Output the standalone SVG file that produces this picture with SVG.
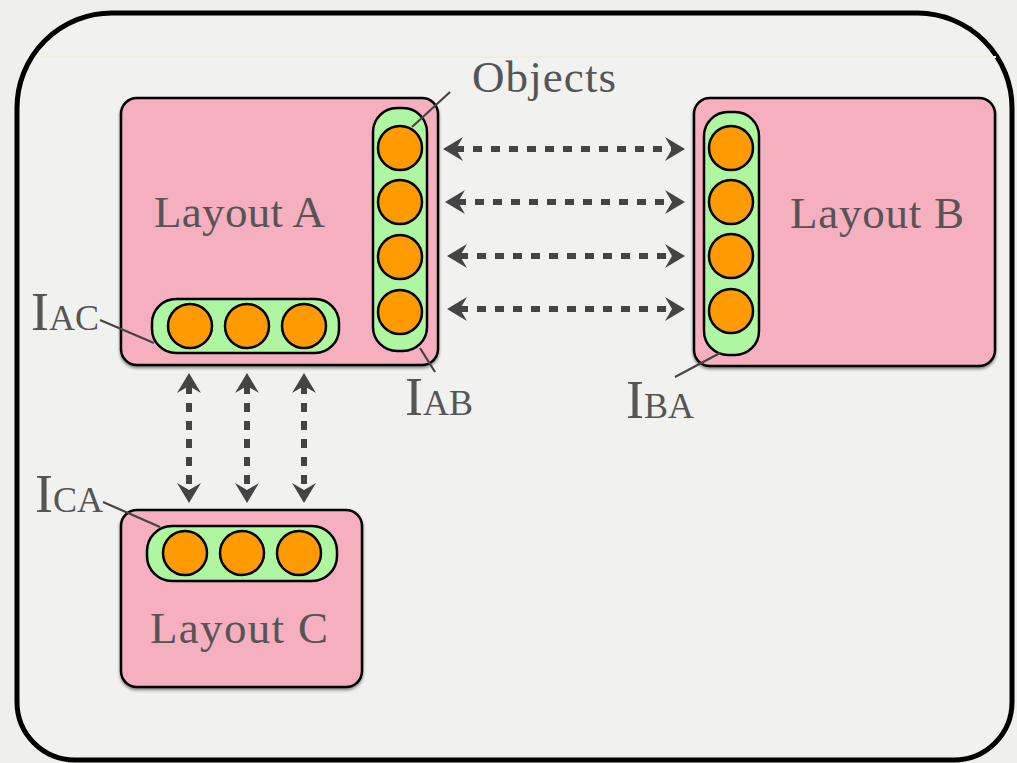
<svg xmlns="http://www.w3.org/2000/svg" width="1017" height="763" viewBox="0 0 1017 763">
  <style>
    .layout { fill: #f5afbf; stroke: #000; stroke-width: 2.5; }
    .iface { fill: #aef7a0; stroke: #000; stroke-width: 2.5; }
    .obj { fill: #ff9a00; stroke: #000; stroke-width: 2.5; }
    .lbl { font-family: "Liberation Serif", "DejaVu Serif", serif; fill: #555; }
    .big { font-size: 45px; }
    .lead { stroke: #444; stroke-width: 2.2; fill: none; }
    .link { stroke: #444; stroke-width: 6; stroke-dasharray: 9 9; fill: none; }
  </style>
  <defs>
    <marker id="head" viewBox="-21 -13 23 26" markerWidth="23" markerHeight="26" refX="-12" refY="0" orient="auto-start-reverse" markerUnits="userSpaceOnUse">
      <path d="M0,0 L-20,-12 L-13,0 L-20,12 Z" fill="#444"/>
    </marker>
    <filter id="shadow" x="-10%" y="-10%" width="120%" height="125%">
      <feDropShadow dx="0" dy="2" stdDeviation="1.5" flood-color="#000" flood-opacity="0.45"/>
    </filter>
  </defs>

  <!-- page -->
  <rect x="0" y="0" width="1017" height="763" fill="#efefed"/>
  <path d="M17,108 A95,95 0 0 1 112,13 L918,13 A95,95 0 0 1 1012,108 L1012,702 A58,58 0 0 1 954,760 L75,760 A58,58 0 0 1 17,702 Z" fill="#f1f1ef" stroke="#000" stroke-width="5"/>
  <line x1="36" y1="57" x2="996" y2="57" stroke="#f2efd8" stroke-width="2"/>

  <!-- Layout A -->
  <g id="layout-a">
    <rect class="layout" x="121" y="98" width="317" height="267" rx="16" filter="url(#shadow)"/>
    <text class="lbl big" x="154" y="227" textLength="171">Layout A</text>
  </g>

  <!-- Interface A to B -->
  <g id="iface-ab">
    <rect class="iface" x="373" y="108" width="54" height="243" rx="24"/>
    <circle class="obj" cx="400" cy="148" r="22"/>
    <circle class="obj" cx="400" cy="202" r="22"/>
    <circle class="obj" cx="400" cy="257" r="22"/>
    <circle class="obj" cx="400" cy="312" r="22"/>
  </g>

  <!-- Interface A to C -->
  <g id="iface-ac">
    <rect class="iface" x="152" y="299" width="187" height="54" rx="24"/>
    <circle class="obj" cx="190" cy="326" r="22"/>
    <circle class="obj" cx="247" cy="326" r="22"/>
    <circle class="obj" cx="304" cy="326" r="22"/>
  </g>

  <!-- Layout B -->
  <g id="layout-b">
    <rect class="layout" x="694" y="98" width="301" height="268" rx="16" filter="url(#shadow)"/>
    <text class="lbl big" x="790" y="228" textLength="174">Layout B</text>
  </g>

  <!-- Interface B to A -->
  <g id="iface-ba">
    <rect class="iface" x="704" y="112" width="55" height="243" rx="24"/>
    <circle class="obj" cx="731" cy="148" r="22"/>
    <circle class="obj" cx="731" cy="202" r="22"/>
    <circle class="obj" cx="731" cy="256" r="22"/>
    <circle class="obj" cx="731" cy="311" r="22"/>
  </g>

  <!-- Layout C -->
  <g id="layout-c">
    <rect class="layout" x="121" y="510" width="241" height="177" rx="16" filter="url(#shadow)"/>
    <text class="lbl big" x="150" y="643" textLength="178">Layout C</text>
  </g>

  <!-- Interface C to A -->
  <g id="iface-ca">
    <rect class="iface" x="147" y="526" width="190" height="55" rx="25"/>
    <circle class="obj" cx="185" cy="553" r="22"/>
    <circle class="obj" cx="242" cy="553" r="22"/>
    <circle class="obj" cx="299" cy="553" r="22"/>
  </g>

  <!-- links between interface objects -->
  <g id="connectors">
    <line class="link" x1="455" y1="149" x2="673" y2="149" marker-start="url(#head)" marker-end="url(#head)"/>
    <line class="link" x1="457" y1="202" x2="673" y2="202" marker-start="url(#head)" marker-end="url(#head)"/>
    <line class="link" x1="459" y1="256" x2="673" y2="256" marker-start="url(#head)" marker-end="url(#head)"/>
    <line class="link" x1="459" y1="309" x2="673" y2="309" marker-start="url(#head)" marker-end="url(#head)"/>
    <line class="link" x1="189" y1="385" x2="189" y2="491" marker-start="url(#head)" marker-end="url(#head)"/>
    <line class="link" x1="247" y1="385" x2="247" y2="491" marker-start="url(#head)" marker-end="url(#head)"/>
    <line class="link" x1="304" y1="385" x2="304" y2="491" marker-start="url(#head)" marker-end="url(#head)"/>
  </g>

  <!-- labels and leader lines -->
  <g id="labels">
    <line class="lead" x1="450" y1="92" x2="412" y2="127"/>
    <text class="lbl big" x="472" y="92" textLength="144">Objects</text>

    <line class="lead" x1="420" y1="348" x2="435" y2="372"/>
    <text class="lbl" x="405" y="415"><tspan font-size="54">I</tspan><tspan font-size="36">AB</tspan></text>

    <line class="lead" x1="675" y1="377" x2="720" y2="353"/>
    <text class="lbl" x="626" y="418"><tspan font-size="54">I</tspan><tspan font-size="36">BA</tspan></text>

    <line class="lead" x1="100" y1="320" x2="154" y2="343"/>
    <text class="lbl" x="31" y="330"><tspan font-size="54">I</tspan><tspan font-size="36">AC</tspan></text>

    <line class="lead" x1="103" y1="502" x2="160" y2="527"/>
    <text class="lbl" x="35" y="512"><tspan font-size="54">I</tspan><tspan font-size="36">CA</tspan></text>
  </g>
</svg>
